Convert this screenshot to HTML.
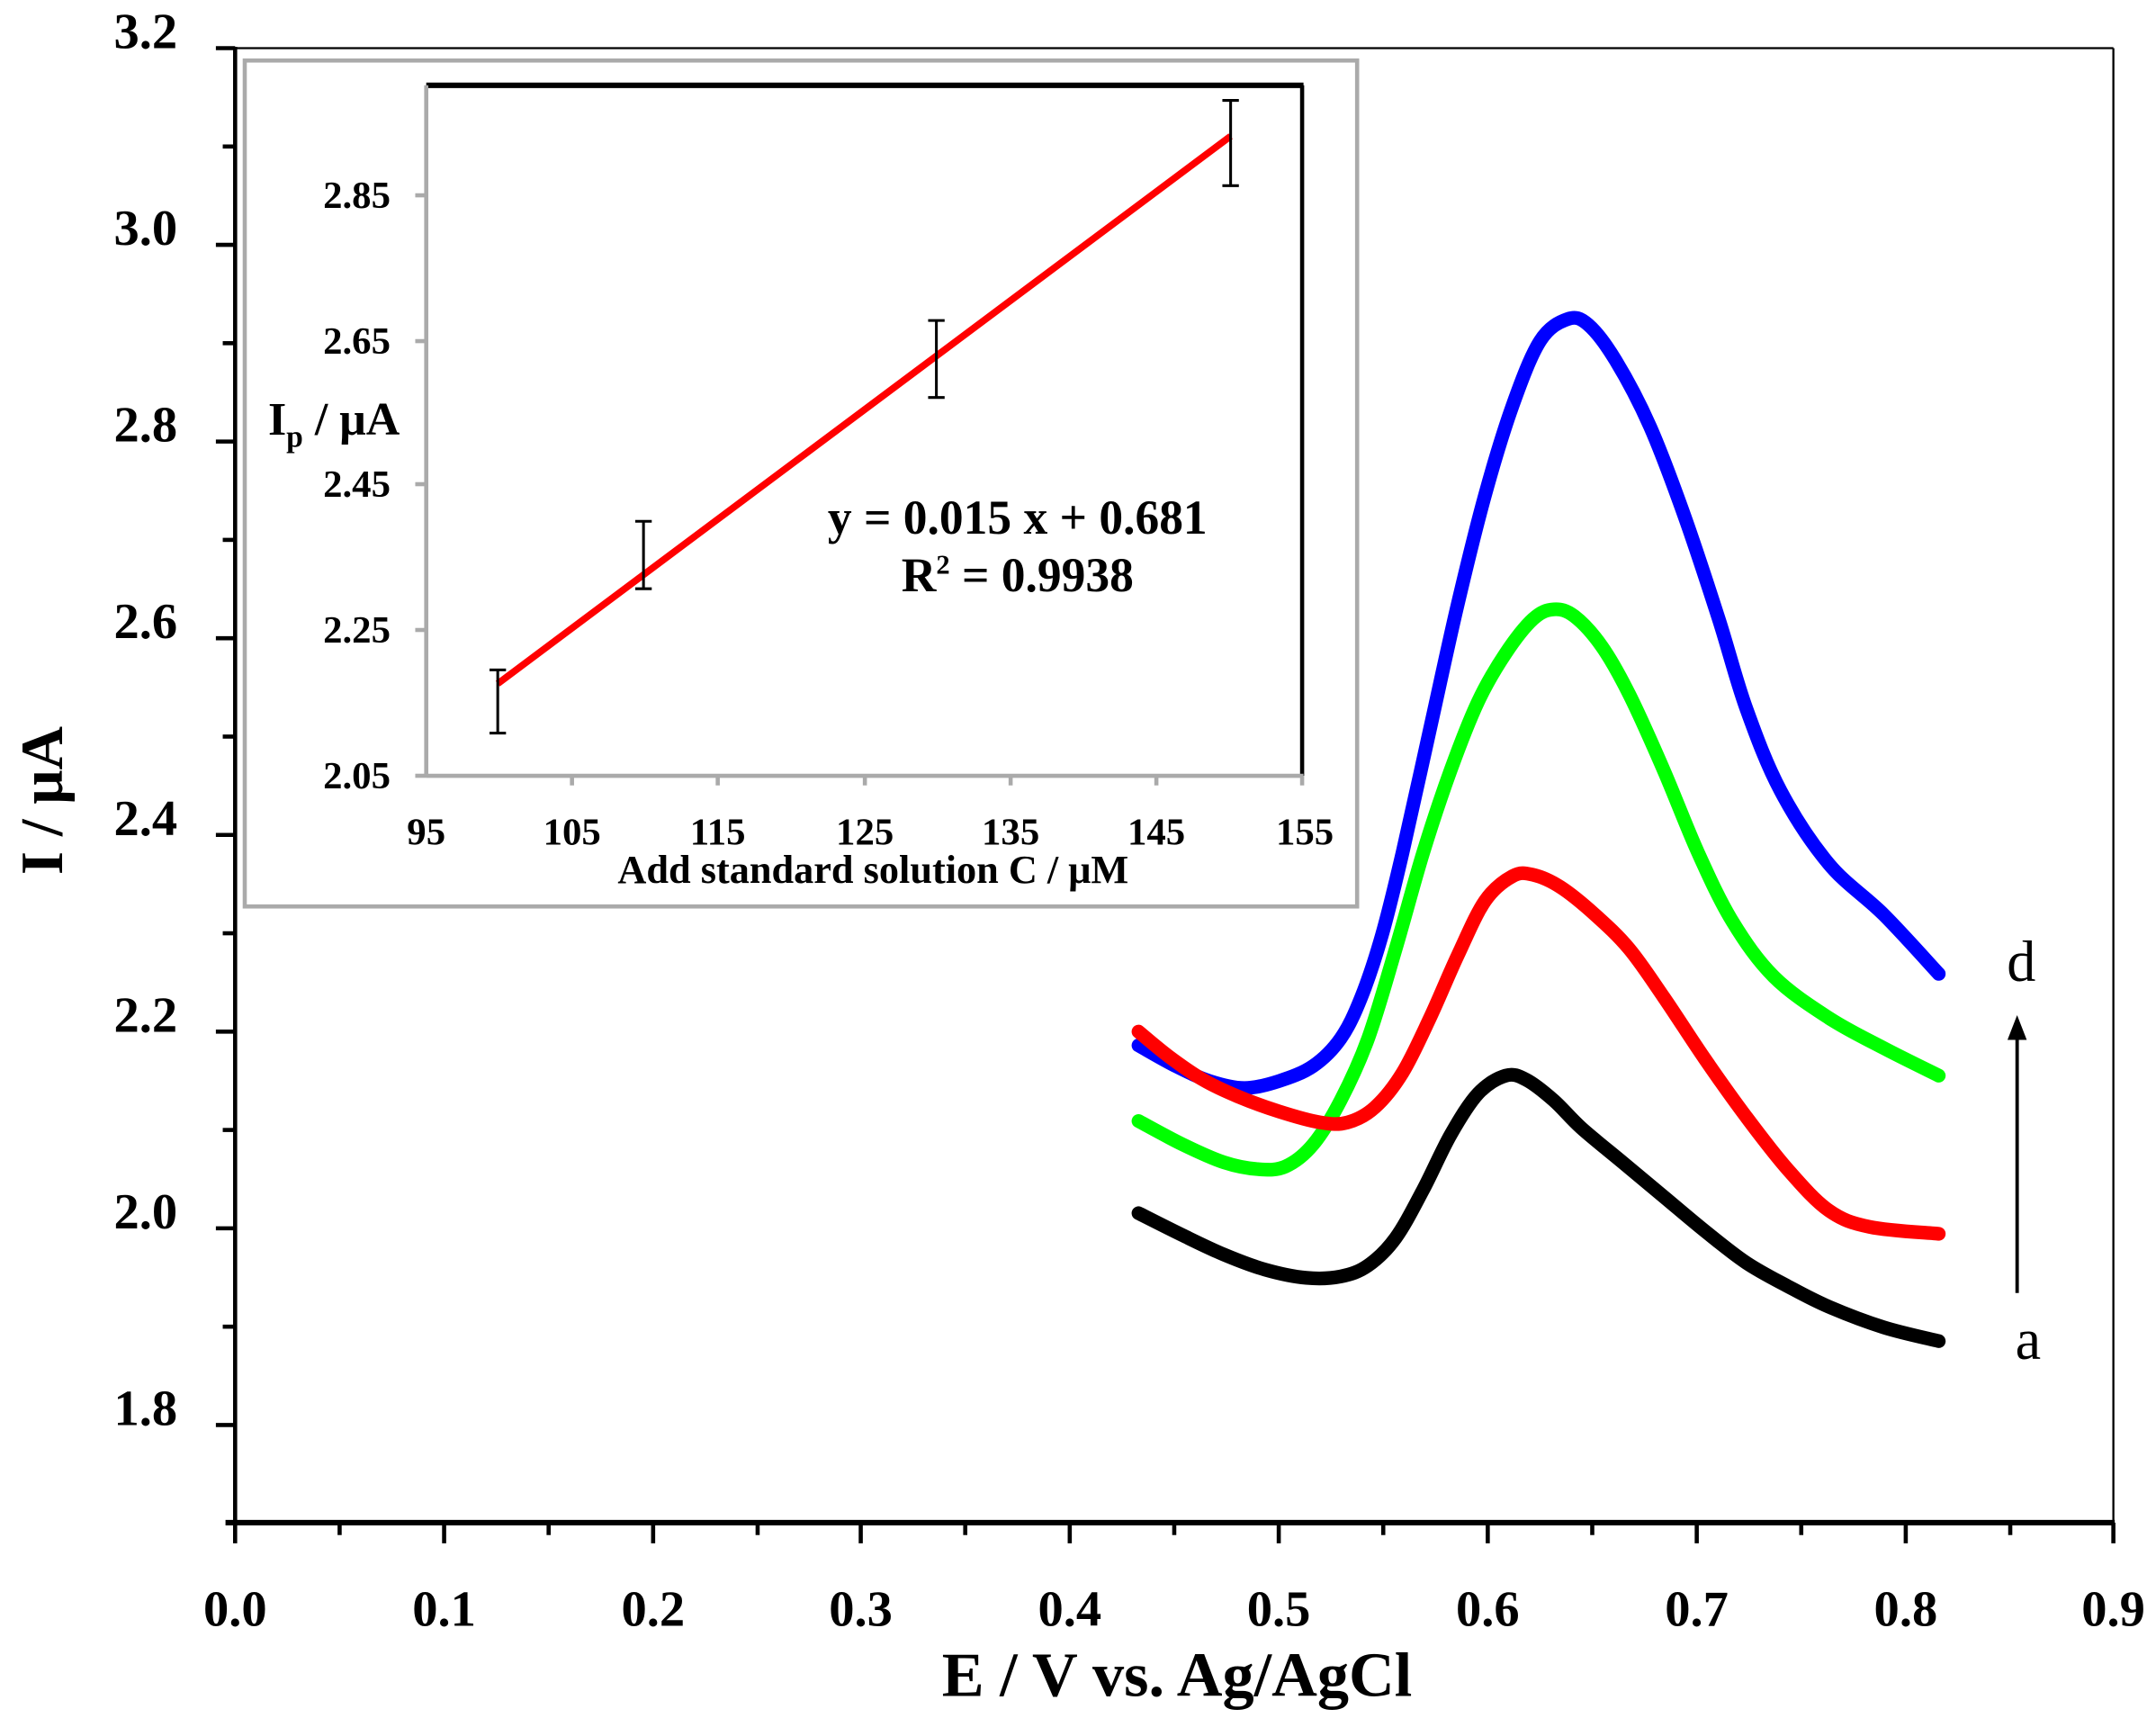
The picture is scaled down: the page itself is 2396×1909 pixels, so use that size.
<!DOCTYPE html>
<html><head><meta charset="utf-8"><style>html,body{margin:0;padding:0;background:#fff}svg{display:block}</style></head>
<body>
<svg width="2396" height="1909" viewBox="0 0 1568 1249" preserveAspectRatio="none" xmlns="http://www.w3.org/2000/svg" font-family="'Liberation Serif', serif" font-weight="bold">
<rect width="1568" height="1249" fill="#fff"/>
<line x1="171" y1="35" x2="1537" y2="35" stroke="#000" stroke-width="1.5"/>
<line x1="1537" y1="35" x2="1537" y2="1107" stroke="#000" stroke-width="1.5"/>
<line x1="171" y1="34" x2="171" y2="1109" stroke="#000" stroke-width="3"/>
<line x1="164" y1="1107" x2="1538" y2="1107" stroke="#000" stroke-width="4"/>
<g stroke="#000" stroke-width="3">
<line x1="157" y1="35" x2="171" y2="35"/><line x1="162" y1="106.5" x2="171" y2="106.5"/>
<line x1="157" y1="178" x2="171" y2="178"/><line x1="162" y1="249.5" x2="171" y2="249.5"/>
<line x1="157" y1="321" x2="171" y2="321"/><line x1="162" y1="392.5" x2="171" y2="392.5"/>
<line x1="157" y1="464" x2="171" y2="464"/><line x1="162" y1="535.5" x2="171" y2="535.5"/>
<line x1="157" y1="607" x2="171" y2="607"/><line x1="162" y1="678.5" x2="171" y2="678.5"/>
<line x1="157" y1="750" x2="171" y2="750"/><line x1="162" y1="821.5" x2="171" y2="821.5"/>
<line x1="157" y1="893" x2="171" y2="893"/><line x1="162" y1="964.5" x2="171" y2="964.5"/>
<line x1="157" y1="1036" x2="171" y2="1036"/>
<line x1="171" y1="1107" x2="171" y2="1122"/><line x1="247" y1="1107" x2="247" y2="1116"/>
<line x1="323" y1="1107" x2="323" y2="1122"/><line x1="399" y1="1107" x2="399" y2="1116"/>
<line x1="475" y1="1107" x2="475" y2="1122"/><line x1="551" y1="1107" x2="551" y2="1116"/>
<line x1="626" y1="1107" x2="626" y2="1122"/><line x1="702" y1="1107" x2="702" y2="1116"/>
<line x1="778" y1="1107" x2="778" y2="1122"/><line x1="854" y1="1107" x2="854" y2="1116"/>
<line x1="930" y1="1107" x2="930" y2="1122"/><line x1="1006" y1="1107" x2="1006" y2="1116"/>
<line x1="1082" y1="1107" x2="1082" y2="1122"/><line x1="1158" y1="1107" x2="1158" y2="1116"/>
<line x1="1234" y1="1107" x2="1234" y2="1122"/><line x1="1310" y1="1107" x2="1310" y2="1116"/>
<line x1="1386" y1="1107" x2="1386" y2="1122"/><line x1="1462" y1="1107" x2="1462" y2="1116"/>
<line x1="1537" y1="1107" x2="1537" y2="1122"/>
</g>
<g font-size="37" text-anchor="end">
<text x="129" y="35">3.2</text><text x="129" y="178">3.0</text><text x="129" y="321">2.8</text>
<text x="129" y="464">2.6</text><text x="129" y="607">2.4</text><text x="129" y="750">2.2</text>
<text x="129" y="893">2.0</text><text x="129" y="1036">1.8</text>
</g>
<g font-size="37" text-anchor="middle">
<text x="171" y="1182">0.0</text><text x="323" y="1182">0.1</text><text x="475" y="1182">0.2</text>
<text x="626" y="1182">0.3</text><text x="778" y="1182">0.4</text><text x="930" y="1182">0.5</text>
<text x="1082" y="1182">0.6</text><text x="1234" y="1182">0.7</text><text x="1386" y="1182">0.8</text>
<text x="1537" y="1182">0.9</text>
</g>
<text x="856" y="1233" font-size="46" text-anchor="middle">E / V vs. Ag/AgCl</text>
<text transform="translate(45,582) rotate(-90)" font-size="44" text-anchor="middle">I / μA</text>
<g fill="none" stroke-width="10" stroke-linejoin="round" stroke-linecap="round" id="curves">
<polyline stroke="#000" points="828,882 860,898 890,912 920,923 950,929 975,928 995,920 1015,900 1035,865 1055,825 1075,795 1095,782 1110,785 1130,800 1150,820 1180,845 1210,870 1240,895 1270,918 1300,935 1330,950 1370,965 1410,975"/>
<polyline stroke="#0000ff" points="828,760 855,775 880,786 905,791 930,786 955,775 975,755 990,725 1005,680 1020,620 1040,530 1060,440 1080,360 1100,295 1120,248 1140,232 1155,236 1175,262 1200,310 1225,375 1250,450 1270,515 1295,575 1330,628 1370,665 1410,708"/>
<polyline stroke="#00ff00" points="828,815 860,832 890,845 915,850 935,848 955,832 975,800 995,755 1015,690 1035,620 1055,560 1075,510 1095,475 1115,450 1130,443 1145,448 1165,470 1185,505 1210,560 1235,620 1260,670 1290,710 1330,740 1370,762 1410,782"/>
<polyline stroke="#ff0000" points="828,750 850,768 875,785 900,797 930,808 960,816 980,816 1000,805 1020,780 1040,740 1060,695 1080,655 1100,637 1115,636 1135,645 1160,665 1185,690 1210,725 1240,770 1270,812 1300,850 1330,880 1360,892 1410,897"/>
</g>
<line x1="1467" y1="940" x2="1467" y2="755" stroke="#000" stroke-width="2.5"/>
<polygon points="1467,738 1460,756 1474,756" fill="#000"/>
<text x="1470" y="713" font-size="42" font-weight="normal" text-anchor="middle">d</text>
<text x="1475" y="988" font-size="42" font-weight="normal" text-anchor="middle">a</text>
<rect x="178" y="44" width="809" height="615" fill="#fff" stroke="#aaa" stroke-width="3"/>
<line x1="310" y1="62" x2="948" y2="62" stroke="#000" stroke-width="4"/>
<line x1="947" y1="62" x2="947" y2="564" stroke="#000" stroke-width="3"/>
<line x1="310" y1="62" x2="310" y2="565" stroke="#aaa" stroke-width="3"/>
<line x1="310" y1="564" x2="948" y2="564" stroke="#aaa" stroke-width="3"/>
<g stroke="#aaa" stroke-width="3">
<line x1="302" y1="142" x2="310" y2="142"/><line x1="302" y1="248" x2="310" y2="248"/>
<line x1="302" y1="352" x2="310" y2="352"/><line x1="302" y1="458" x2="310" y2="458"/>
<line x1="302" y1="564" x2="310" y2="564"/>
<line x1="416" y1="564" x2="416" y2="571"/><line x1="522" y1="564" x2="522" y2="571"/>
<line x1="629" y1="564" x2="629" y2="571"/><line x1="735" y1="564" x2="735" y2="571"/>
<line x1="841" y1="564" x2="841" y2="571"/><line x1="947" y1="564" x2="947" y2="571"/>
</g>
<g font-size="28" text-anchor="end">
<text x="284" y="151">2.85</text><text x="284" y="257">2.65</text><text x="284" y="361">2.45</text>
<text x="284" y="467">2.25</text><text x="284" y="573">2.05</text>
</g>
<g font-size="28" text-anchor="middle">
<text x="310" y="614">95</text><text x="416" y="614">105</text><text x="522" y="614">115</text>
<text x="629" y="614">125</text><text x="735" y="614">135</text><text x="841" y="614">145</text>
<text x="949" y="614">155</text>
</g>
<text x="635" y="642" font-size="29" text-anchor="middle">Add standard solution C / μM</text>
<text x="195" y="316" font-size="34">I<tspan font-size="22" dy="9">p</tspan><tspan dy="-9"> / μA</tspan></text>
<text x="740" y="388" font-size="35" text-anchor="middle">y = 0.015 x + 0.681</text>
<text x="740" y="430" font-size="35" text-anchor="middle">R<tspan font-size="20" dy="-13">2</tspan><tspan dy="13"> = 0.9938</tspan></text>
<line x1="362" y1="497" x2="895" y2="99" stroke="#ff0000" stroke-width="5"/>
<g stroke="#000" stroke-width="2">
<line x1="362" y1="487" x2="362" y2="533"/><line x1="356" y1="487" x2="368" y2="487"/><line x1="356" y1="533" x2="368" y2="533"/>
<line x1="468" y1="379" x2="468" y2="428"/><line x1="462" y1="379" x2="474" y2="379"/><line x1="462" y1="428" x2="474" y2="428"/>
<line x1="681" y1="233" x2="681" y2="289"/><line x1="675" y1="233" x2="687" y2="233"/><line x1="675" y1="289" x2="687" y2="289"/>
<line x1="895" y1="73" x2="895" y2="135"/><line x1="889" y1="73" x2="901" y2="73"/><line x1="889" y1="135" x2="901" y2="135"/>
</g>
</svg>
<script>
(function(){
var ns="http://www.w3.org/2000/svg";
var pls=document.querySelectorAll("#curves polyline");
for(var k=0;k<pls.length;k++){
 var pl=pls[k];
 var pts=pl.getAttribute("points").trim().split(/\s+/).map(function(s){return s.split(",").map(Number);});
 var d="M"+pts[0][0]+","+pts[0][1];
 for(var i=0;i<pts.length-1;i++){
  var p0=pts[i>0?i-1:0],p1=pts[i],p2=pts[i+1],p3=pts[i+2<pts.length?i+2:pts.length-1];
  var c1x=p1[0]+(p2[0]-p0[0])/6,c1y=p1[1]+(p2[1]-p0[1])/6;
  var c2x=p2[0]-(p3[0]-p1[0])/6,c2y=p2[1]-(p3[1]-p1[1])/6;
  d+=" C"+c1x.toFixed(2)+","+c1y.toFixed(2)+" "+c2x.toFixed(2)+","+c2y.toFixed(2)+" "+p2[0]+","+p2[1];
 }
 var p=document.createElementNS(ns,"path");
 p.setAttribute("d",d);p.setAttribute("stroke",pl.getAttribute("stroke"));
 pl.parentNode.replaceChild(p,pl);
}
})();
</script>
</body></html>
